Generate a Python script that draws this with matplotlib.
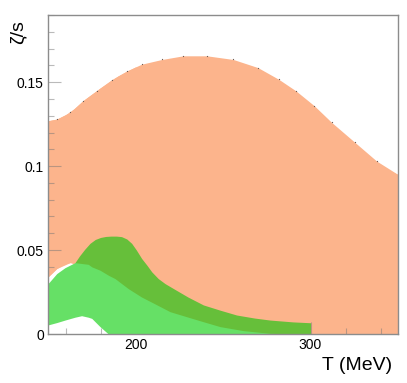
import numpy as np
import matplotlib
matplotlib.use('Agg')
import matplotlib.pyplot as plt
from matplotlib.ticker import MultipleLocator

plt.rcParams['font.family'] = ['Liberation Sans', 'DejaVu Sans']

# banda naranja (zeta/s)
T_naranja = [150, 155, 162.6, 170, 177.8, 186.4, 195, 203.5, 215, 227.3, 240.7,
             255.9, 269.9, 282, 291.7, 302.2, 312.1, 325.4, 337.8, 350]
sup_naranja = [0.127, 0.128, 0.132, 0.139, 0.145, 0.1515, 0.1567, 0.1607, 0.1635, 0.1657, 0.1657,
               0.1635, 0.1587, 0.1516, 0.1448, 0.1359, 0.126, 0.1141, 0.103, 0.095]
T_naranja_inf = [150, 155, 160, 165, 170, 180, 190, 200, 350]
inf_naranja = [0.034, 0.039, 0.042, 0.043, 0.040, 0.030, 0.015, 0.0, 0.0]

# banda verde oscura
T_oscuro = [165.4, 168, 171, 174, 177, 180, 183, 186, 189, 192, 195, 197.8, 200.5, 203.5,
            206.5, 209.3, 213, 216.9, 222.6, 230, 238.8, 248.3, 257.8, 268, 276.9, 290, 300]
sup_oscuro = [0.0425, 0.0465, 0.0505, 0.054, 0.0563, 0.0575, 0.0581, 0.0583, 0.0583, 0.058, 0.0566,
              0.054, 0.050, 0.045, 0.041, 0.037, 0.033, 0.030, 0.0265, 0.022, 0.0173, 0.0142,
              0.0113, 0.0095, 0.0083, 0.0072, 0.0067]
inf_oscuro = [0.012, 0.012, 0.012, 0.012, 0.012, 0.012, 0.012, 0.012, 0.0, 0.0, 0.0,
              0.0, 0.0, 0.0, 0.0, 0.0, 0.0, 0.0, 0.0, 0.0, 0.0, 0.0,
              0.0, 0.0, 0.0, 0.0, 0.0]

# banda verde clara
T_claro = [150, 155, 159.7, 165.4, 169.2, 173, 175, 179.7, 184.5, 188.3, 195.9, 203.5,
           211, 219.7, 229.2, 238.8, 248.3, 261.6, 276.9, 292]
sup_claro = [0.030, 0.036, 0.0395, 0.0425, 0.042, 0.0415, 0.040, 0.038, 0.035, 0.033, 0.027, 0.022,
             0.018, 0.0133, 0.0103, 0.0073, 0.0044, 0.002, 0.0004, 0.0]
inf_claro = [0.0054, 0.0068, 0.0083, 0.0100, 0.0109, 0.0100, 0.0093, 0.0044, 0.0, 0.0, 0.0, 0.0,
             0.0, 0.0, 0.0, 0.0, 0.0, 0.0, 0.0, 0.0]

fig = plt.figure(figsize=(4.07, 3.83), dpi=100)
ax = fig.add_axes([48/407, 1-334/383, 350/407, 319/383])

ax.fill_between(T_naranja, sup_naranja, np.interp(T_naranja, T_naranja_inf, inf_naranja),
                color='#fcb48c', lw=0, zorder=1)
ax.fill_between(T_naranja_inf, inf_naranja, np.interp(T_naranja_inf, T_naranja, sup_naranja),
                color='#fcb48c', lw=0, zorder=1)
ax.plot(T_naranja[1:-1], sup_naranja[1:-1], ls='none', marker='o', ms=0.9, mew=0,
        color='#6a5a52', zorder=2)
ax.fill_between(T_oscuro, inf_oscuro, sup_oscuro, color='#66bf3a', lw=0, zorder=3)
ax.fill_between(T_claro, inf_claro, sup_claro, color='#66e066', lw=0, zorder=4)

ax.set_xlim(150, 350)
ax.set_ylim(0, 0.19)
ax.xaxis.set_major_locator(MultipleLocator(100))
ax.xaxis.set_minor_locator(MultipleLocator(20))
ax.yaxis.set_major_locator(MultipleLocator(0.05))
ax.yaxis.set_minor_locator(MultipleLocator(0.01))
ax.set_xticks([200, 300])
ax.set_xticklabels(['200', '300'])
ax.set_yticks([0, 0.05, 0.1, 0.15])
ax.set_yticklabels(['0', '0.05', '0.1', '0.15'])
ax.tick_params(which='both', direction='in', top=False, right=False, color='#777777',
               labelsize=10, width=0.8, zorder=10)
ax.tick_params(which='major', length=9, pad=3)
ax.tick_params(which='minor', length=4.5)
for s in ax.spines.values():
    s.set_color('#8c8c8c')
    s.set_linewidth(1)
    s.set_zorder(10)
for t in ax.xaxis.get_ticklines(minor=True) + ax.yaxis.get_ticklines(minor=True):
    t.set_alpha(0.5)
for t in ax.xaxis.get_ticklines() + ax.yaxis.get_ticklines():
    t.set_alpha(0.5)

fig.text(18/407, 1-20/383, 'ζ/s', rotation=90, ha='center', va='top', fontsize=14)
fig.text(392/407, 1-366/383, 'T (MeV)', ha='right', va='center', fontsize=14)

fig.savefig('out.png', dpi=100)
